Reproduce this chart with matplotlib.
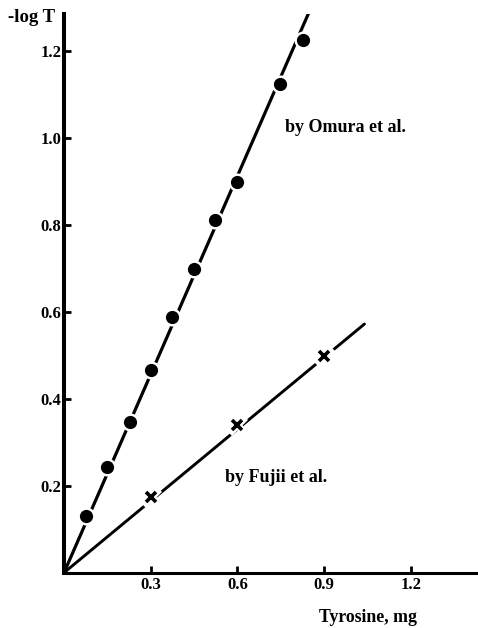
import numpy as np
import matplotlib.pyplot as plt

# tyrosine calibration: absorbance (-log T) against tyrosine amount (mg)
omura_x = [0.075, 0.148, 0.227, 0.302, 0.373, 0.450, 0.523, 0.600, 0.748, 0.826]
omura_y = [0.130, 0.244, 0.346, 0.466, 0.587, 0.698, 0.811, 0.899, 1.124, 1.225]
fujii_x = [0.30, 0.60, 0.90]
fujii_y = [0.175, 0.340, 0.498]
omura_slope = 1.52
fujii_slope = 0.55
fujii_end = 1.04

xticks = [0.3, 0.6, 0.9, 1.2]
yticks = [0.2, 0.4, 0.6, 0.8, 1.0, 1.2]

serif = ['Liberation Serif', 'DejaVu Serif']

fig = plt.figure(figsize=(4.78, 6.28), dpi=100)
ax = fig.add_axes([64/478, 55.3/628, 414/478, 558.7/628])
ax.set_xlim(0, 1.433)
ax.set_ylim(0, 1.285)

# fitted lines through the origin
lx = np.array([0, 1.0])
ax.plot(lx, omura_slope*lx, c='k', lw=2.3, solid_capstyle='butt')
lx2 = np.array([0, fujii_end])
ax.plot(lx2, fujii_slope*lx2, c='k', lw=2.1, solid_capstyle='round')

# white halo under markers breaks the line around each point
ax.plot(omura_x, omura_y, 'o', ms=13, c='white', mew=0)
ax.plot(omura_x, omura_y, 'o', ms=9.5, c='k', mew=0)
ax.plot(fujii_x, fujii_y, 'x', ms=11, c='white', mew=5)
ax.plot(fujii_x, fujii_y, 'x', ms=7.5, c='k', mew=2.6)

ax.text(0.765, 1.025, 'by Omura et al.', family=serif, fontsize=13,
        fontweight='bold', va='center')
ax.text(0.557, 0.220, 'by Fujii et al.', family=serif, fontsize=13,
        fontweight='bold', va='center')

for s in ['top', 'right']:
    ax.spines[s].set_visible(False)
ax.spines['left'].set_linewidth(2.9)
ax.spines['bottom'].set_linewidth(2.2)

ax.set_xticks(xticks)
ax.set_yticks(yticks)
ax.set_xticklabels([f'{v:.1f}' for v in xticks])
ax.set_yticklabels([f'{v:.1f}' for v in yticks])
ax.tick_params(direction='in', length=5, width=2, pad=3)
ax.tick_params(axis='y', pad=2)
for lab in ax.get_xticklabels() + ax.get_yticklabels():
    lab.set_family(serif)
    lab.set_fontsize(12)
    lab.set_fontweight('bold')

fig.text(368/478, 1 - 618/628, 'Tyrosine, mg', family=serif, fontsize=12.8,
         fontweight='bold', ha='center', va='center')
fig.text(8/478, 1 - 17/628, '-log T', family=serif, fontsize=13.5,
         fontweight='bold', ha='left', va='center')

fig.savefig('out.png', dpi=100)
